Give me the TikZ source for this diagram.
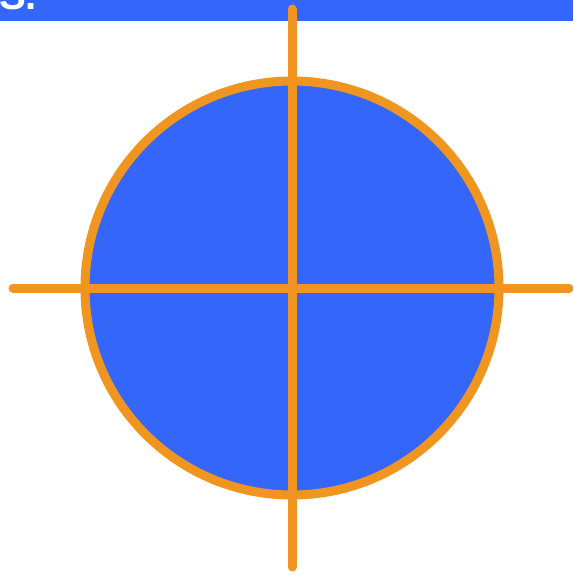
\documentclass[tikz,border=0pt]{standalone}
\usepackage{fontspec}
\setmainfont{Liberation Sans}
\definecolor{tgblue}{RGB}{52,102,250}
\definecolor{tgorange}{RGB}{240,150,32}
\usetikzlibrary{positioning}

\begin{document}
\begin{tikzpicture}[
  x=1pt, y=-1pt,
  band/.style={fill=tgblue, draw=none},
  disc/.style={circle, minimum size=414pt, inner sep=0pt,
    fill=tgblue, draw=tgorange, line width=9pt},
  crossline/.style={draw=tgorange, line width=9pt, line cap=round}
]
\useasboundingbox (0,0) rectangle (573,575);
\clip (0,0) rectangle (573,575);
\fill[white] (0,0) rectangle (573,575);

% top band with cut-off heading
\fill[band] (0,0) rectangle (573,21);
\node[anchor=base east, inner sep=0pt, text=white,
  font=\fontsize{40}{40}\selectfont\bfseries] (head) at (37,10) {S.};

% target
\node[disc] (ring) at (292,288) {};
\coordinate (ntop) at (292,9);
\coordinate (nbot) at (292,567);
\coordinate (wend) at (13,288);
\coordinate (eend) at (569,288);
\draw[crossline] (ntop) -- (nbot);
\draw[crossline] (wend) -- (eend);
\end{tikzpicture}
\end{document}
